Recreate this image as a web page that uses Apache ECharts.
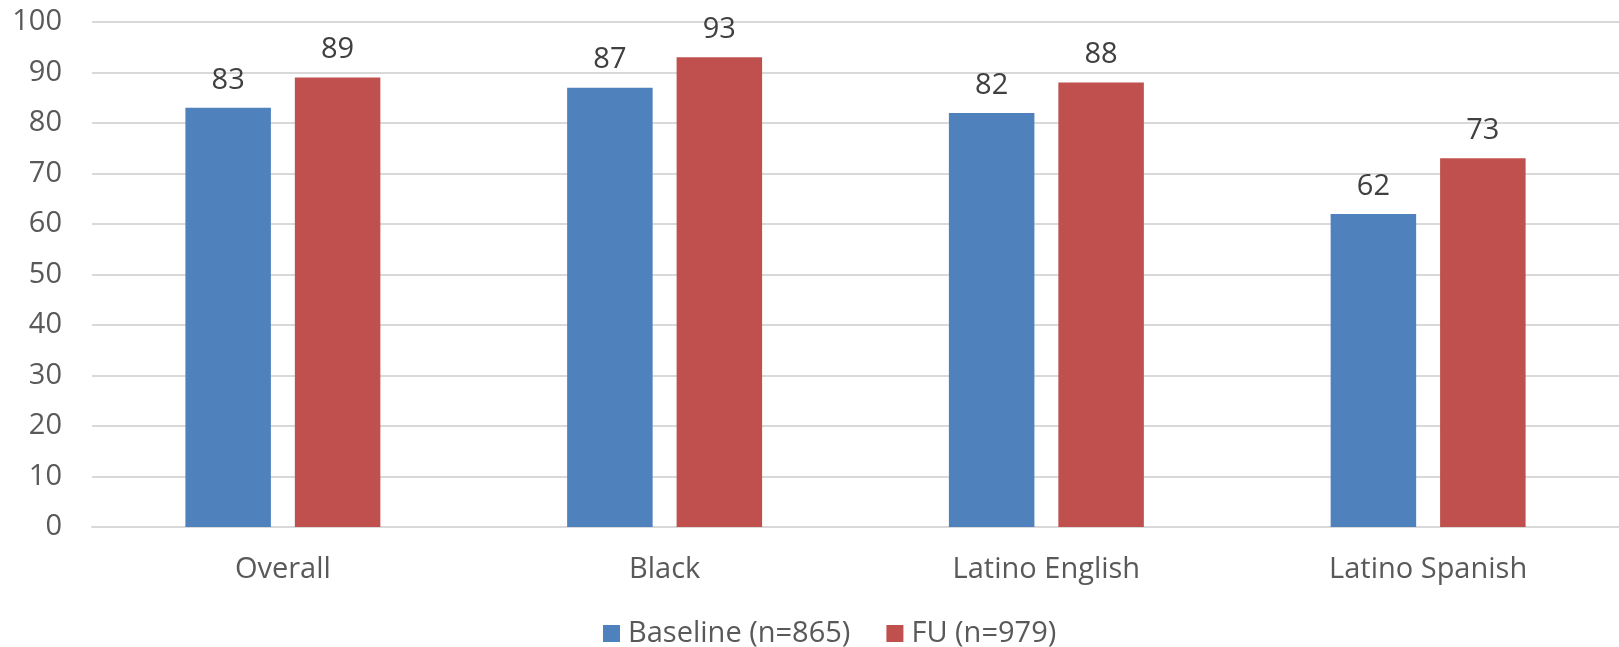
<!DOCTYPE html>
<html><head><meta charset="utf-8">
<script src="https://cdn.jsdelivr.net/npm/echarts@6/dist/echarts.min.js"></script>
<style>html,body{margin:0;padding:0;background:#fff}#c{width:1619px;height:647px}</style>
</head><body><div id="c"></div>
<script>
const categories = ['Overall', 'Black', 'Latino English', 'Latino Spanish'];
const seriesNames = ['Baseline (n=865)', 'FU (n=979)'];
const baseline = [83, 87, 82, 62];
const fu = [89, 93, 88, 73];
const yTicks = [0, 10, 20, 30, 40, 50, 60, 70, 80, 90, 100];

const FONT = '"Open Sans", "Noto Sans", sans-serif';
const FS = 29;
const chart = echarts.init(document.getElementById('c'));
chart.setOption({
  animation: false,
  grid: { left: 92, top: 22, width: 1531, height: 505, containLabel: false },
  legend: {
    top: 614, left: 598, itemWidth: 17, itemHeight: 17, itemGap: 36,
    icon: 'rect',
    textStyle: { fontFamily: FONT, fontSize: FS, color: '#595959', padding: [0, 0, 0, 3] },
    data: seriesNames
  },
  xAxis: {
    type: 'category', data: categories,
    axisLine: { show: true, lineStyle: { color: '#D9D9D9', width: 2 } },
    axisTick: { show: false },
    axisLabel: { fontFamily: FONT, fontSize: FS, color: '#595959', margin: 28 }
  },
  yAxis: {
    type: 'value', min: yTicks[0], max: yTicks[yTicks.length - 1], interval: 10,
    axisLine: { show: false }, axisTick: { show: false },
    splitLine: { lineStyle: { color: '#D9D9D9', width: 2 } },
    axisLabel: { fontFamily: FONT, fontSize: FS, color: '#595959', margin: 30 }
  },
  series: [
    { name: seriesNames[0], type: 'bar', data: baseline, barWidth: '22.4%', barGap: '28%',
      itemStyle: { color: '#4F81BD' },
      label: { show: true, position: 'top', distance: 13, fontFamily: FONT, fontSize: FS, color: '#404040' } },
    { name: seriesNames[1], type: 'bar', data: fu, barWidth: '22.4%', barGap: '28%',
      itemStyle: { color: '#C0504D' },
      label: { show: true, position: 'top', distance: 13, fontFamily: FONT, fontSize: FS, color: '#404040' } }
  ]
});
</script></body></html>
